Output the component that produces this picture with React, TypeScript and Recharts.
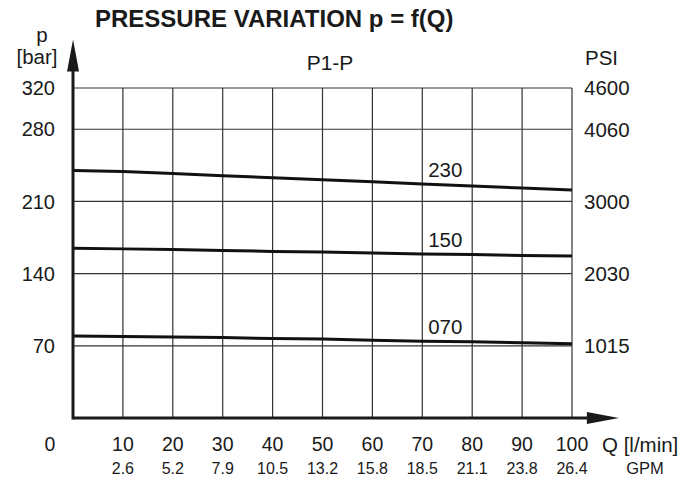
import {
  LineChart, Line, XAxis, YAxis, CartesianGrid, ReferenceLine,
} from 'recharts'

// flow Q [l/min]
const Q_TICKS = [0, 10, 20, 30, 40, 50, 60, 70, 80, 90, 100]
const GPM_LABELS = ['', '2.6', '5.2', '7.9', '10.5', '13.2', '15.8', '18.5', '21.1', '23.8', '26.4']

// pressure ticks (bar) and matching PSI labels
const BAR_TICKS = [70, 140, 210, 280, 320]
const PSI_LABELS = ['1015', '2030', '3000', '4060', '4600']

// curves, one value per Q tick
const P_230 = [240, 239, 237, 235, 233, 231, 229, 227, 225, 223, 221]
const P_150 = [164.5, 164, 163.5, 162.5, 161.5, 161, 160, 159, 158.5, 157.5, 157]
const P_070 = [79.5, 79, 78.5, 78, 77, 76.5, 75.5, 74.5, 74, 73, 72]

// both pressure axes share the same bar domain, so a curve can sit on either one
const SERIES = [
  { key: 'p230', name: '230', axis: 'right' },
  { key: 'p150', name: '150', axis: 'left' },
  { key: 'p070', name: '070', axis: 'left' },
]

const data = Q_TICKS.map((q, i) => ({
  q,
  p230: P_230[i],
  p150: P_150[i],
  p070: P_070[i],
}))

const FONT = '"Liberation Sans", Arial, sans-serif'
const INK = '#1a1a1a'
const GRID = '#333'

function XTick(props: any) {
  const { x, y, payload } = props
  const v = payload.value
  if (v === 0) {
    return (
      <text x={x - 23} y={y + 33} textAnchor="middle" fontSize={19.5} fill={INK} fontFamily={FONT}>0</text>
    )
  }
  return (
    <g>
      <text x={x} y={y + 33} textAnchor="middle" fontSize={19.5} fill={INK} fontFamily={FONT}>{v}</text>
      <text x={x} y={y + 56} textAnchor="middle" fontSize={16} fill={INK} fontFamily={FONT}>
        {GPM_LABELS[Q_TICKS.indexOf(v)]}
      </text>
    </g>
  )
}

function ArrowX(props: any) {
  const { x1, y1, x2 } = props
  return (
    <g>
      <line x1={x1} y1={y1} x2={x2 - 20} y2={y1} stroke={INK} strokeWidth={3} />
      <polygon points={`${x2},${y1} ${x2 - 32},${y1 - 6} ${x2 - 32},${y1 + 6}`} fill={INK} />
    </g>
  )
}

function ArrowY(props: any) {
  const { x1, y1, y2 } = props
  const top = Math.min(y1, y2)
  const bottom = Math.max(y1, y2)
  return (
    <g>
      <line x1={x1} y1={bottom + 1.5} x2={x1} y2={top + 20} stroke={INK} strokeWidth={3} />
      <polygon points={`${x1},${top} ${x1 - 6},${top + 32} ${x1 + 6},${top + 32}`} fill={INK} />
    </g>
  )
}

function curveLabel(name: string) {
  return (p: any) => {
    if (p.index !== 7) return null
    return (
      <text x={p.x + 23} y={p.y - 7} textAnchor="middle" fontSize={20.5} fill={INK} fontFamily={FONT}>
        {name}
      </text>
    )
  }
}

export default function App() {
  return (
    <div style={{ position: 'relative', width: 696, height: 481, background: '#fff' }}>
      <style>{'body{margin:0}'}</style>
      <LineChart
        width={696}
        height={481}
        data={data}
        margin={{ top: 88, right: 64, bottom: 13, left: 13 }}
      >
        <CartesianGrid yAxisId="left" stroke={GRID} strokeWidth={1.2} />
        <XAxis
          dataKey="q"
          type="number"
          domain={[0, 100]}
          ticks={Q_TICKS}
          interval={0}
          height={50}
          axisLine={false}
          tickLine={false}
          tickSize={0}
          tickMargin={0}
          tick={<XTick />}
        />
        <YAxis
          yAxisId="left"
          type="number"
          domain={[0, 320]}
          ticks={BAR_TICKS}
          interval={0}
          width={60}
          axisLine={false}
          tickLine={false}
          tickSize={0}
          tickMargin={18}
          tick={{ fill: INK, fontSize: 20, fontFamily: FONT }}
        />
        <YAxis
          yAxisId="right"
          orientation="right"
          type="number"
          domain={[0, 320]}
          ticks={BAR_TICKS}
          interval={0}
          width={60}
          axisLine={false}
          tickLine={false}
          tickSize={0}
          tickMargin={12}
          tickFormatter={(v: number) => PSI_LABELS[BAR_TICKS.indexOf(v)]}
          tick={{ fill: INK, fontSize: 20.5, fontFamily: FONT }}
        />
        {SERIES.map((s) => (
          <Line
            key={s.key}
            yAxisId={s.axis}
            dataKey={s.key}
            name={s.name}
            type="linear"
            stroke="#111"
            strokeWidth={3}
            dot={false}
            activeDot={false}
            isAnimationActive={false}
            label={curveLabel(s.name)}
          />
        ))}
        <ReferenceLine
          yAxisId="left"
          segment={[{ x: 0, y: 0 }, { x: 109.4, y: 0 }]}
          ifOverflow="visible"
          shape={<ArrowX />}
        />
        <ReferenceLine
          yAxisId="left"
          segment={[{ x: 0, y: 0 }, { x: 0, y: 367 }]}
          ifOverflow="visible"
          shape={<ArrowY />}
        />
      </LineChart>
      <svg
        width={696}
        height={481}
        style={{ position: 'absolute', left: 0, top: 0, pointerEvents: 'none' }}
        fontFamily={FONT}
        fill={INK}
      >
        <text x={95} y={27} fontSize={24} fontWeight="bold">PRESSURE VARIATION p = f(Q)</text>
        <text x={42} y={42} fontSize={20.5} textAnchor="middle">p</text>
        <text x={37} y={64} fontSize={20.5} textAnchor="middle">[bar]</text>
        <text x={330} y={70} fontSize={21} textAnchor="middle">P1-P</text>
        <text x={585} y={65} fontSize={20.5}>PSI</text>
        <text x={602} y={452} fontSize={20.5}>Q [l/min]</text>
        <text x={645} y={474} fontSize={16.5} textAnchor="middle">GPM</text>
      </svg>
    </div>
  )
}
